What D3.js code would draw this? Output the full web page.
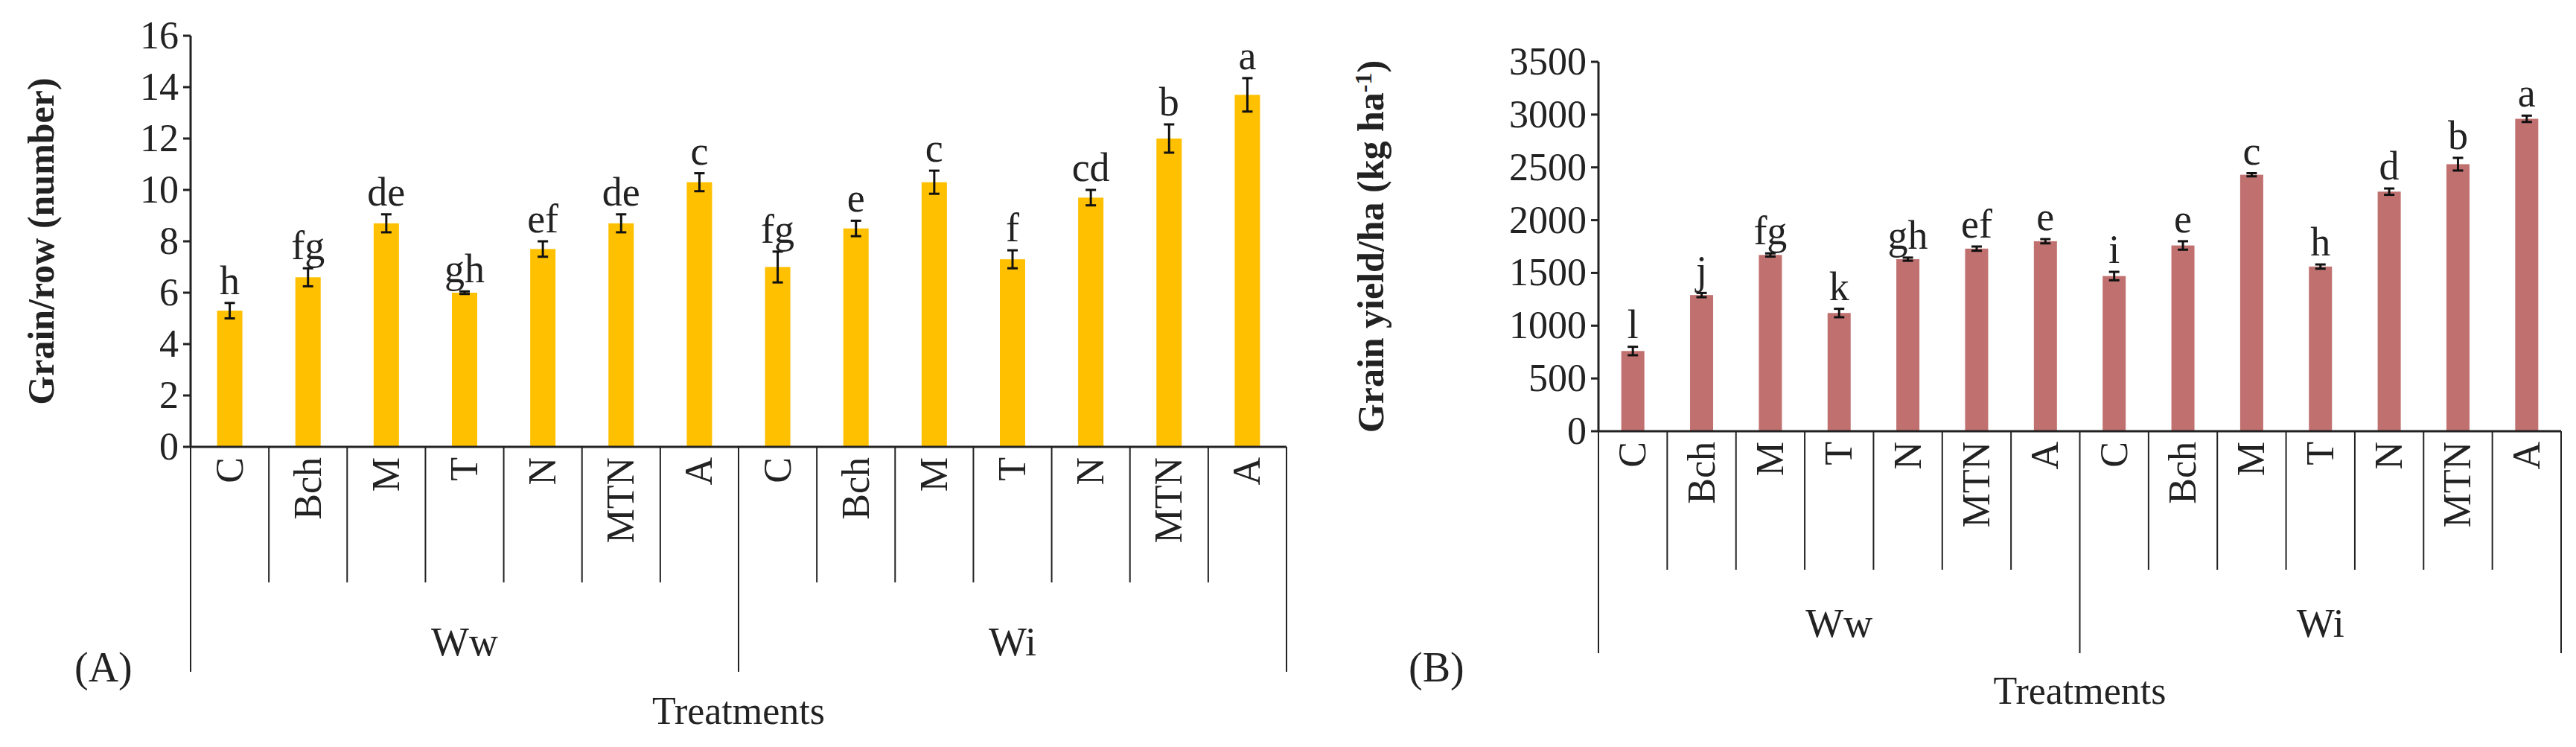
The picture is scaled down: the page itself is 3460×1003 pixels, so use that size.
<!DOCTYPE html>
<html><head><meta charset="utf-8">
<script src="https://cdn.jsdelivr.net/npm/d3@7"></script>
<style>body{margin:0;background:#fff}svg{display:block}text{font-family:"Liberation Serif","Times New Roman",serif;fill:#222}</style>
</head><body><svg id="c" width="3460" height="1003"></svg>
<script>
var treatments = ["C", "Bch", "M", "T", "N", "MTN", "A"];
var groups = ["Ww", "Wi"];
var grainRow = [5.3, 6.6, 8.7, 6.0, 7.7, 8.7, 10.3, 7.0, 8.5, 10.3, 7.3, 9.7, 12.0, 13.7];
var grainRowErr = [0.3, 0.35, 0.35, 0.05, 0.3, 0.35, 0.35, 0.6, 0.3, 0.45, 0.35, 0.3, 0.55, 0.65];
var grainRowLetters = ["h", "fg", "de", "gh", "ef", "de", "c", "fg", "e", "c", "f", "cd", "b", "a"];
var grainYield = [760, 1290, 1670, 1120, 1630, 1730, 1800, 1470, 1760, 2430, 1560, 2270, 2530, 2960];
var grainYieldErr = [40, 20, 15, 40, 15, 20, 20, 40, 40, 15, 20, 30, 60, 30];
var grainYieldLetters = ["l", "j", "fg", "k", "gh", "ef", "e", "i", "e", "c", "h", "d", "b", "a"];
var ticksA = [0, 2, 4, 6, 8, 10, 12, 14, 16];
var ticksB = [0, 500, 1000, 1500, 2000, 2500, 3000, 3500];

var svg = d3.select("#c");

function panel(o) {
  var g = svg.append("g");
  var keys = d3.range(o.values.length);
  var x = d3.scaleBand().domain(keys).range([o.x0, o.x1]);
  var y = d3.scaleLinear().domain([0, o.ticks[o.ticks.length - 1]]).range([o.y0, o.yTop]);

  // y axis
  g.append("line").attr("x1", o.x0).attr("x2", o.x0).attr("y1", o.y0).attr("y2", o.yTop).attr("stroke", "#222").attr("stroke-width", 3);
  g.selectAll(".yt").data(o.ticks).enter().append("line")
    .attr("x1", o.x0 - 10).attr("x2", o.x0).attr("y1", y).attr("y2", y).attr("stroke", "#222").attr("stroke-width", 3);
  g.selectAll(".yl").data(o.ticks).enter().append("text")
    .attr("x", o.x0 - 16).attr("y", function(d) { return y(d) + 17; })
    .attr("text-anchor", "end").attr("font-size", 52).text(function(d) { return d; });

  // bars
  g.selectAll(".bar").data(o.values).enter().append("rect")
    .attr("x", function(d, i) { return x(i) + x.bandwidth() / 2 - o.bw / 2; })
    .attr("width", o.bw).attr("y", function(d) { return y(d); })
    .attr("height", function(d) { return o.y0 - y(d); }).attr("fill", o.color);

  // error bars
  o.values.forEach(function(v, i) {
    var cx = x(i) + x.bandwidth() / 2, lo = y(v - o.err[i]), hi = y(v + o.err[i]);
    g.append("line").attr("x1", cx).attr("x2", cx).attr("y1", lo).attr("y2", hi).attr("stroke", "#111").attr("stroke-width", 3);
    [lo, hi].forEach(function(yy) {
      g.append("line").attr("x1", cx - 7).attr("x2", cx + 7).attr("y1", yy).attr("y2", yy).attr("stroke", "#111").attr("stroke-width", 3);
    });
    g.append("text").attr("x", cx).attr("y", hi - 12).attr("text-anchor", "middle")
      .attr("font-size", 54).text(o.letters[i]);
  });

  // x axis
  g.append("line").attr("x1", o.x0).attr("x2", o.x1).attr("y1", o.y0).attr("y2", o.y0).attr("stroke", "#222").attr("stroke-width", 3);
  keys.forEach(function(i) {
    var lx = x(i);
    var isGroup = i % treatments.length === 0;
    g.append("line").attr("x1", lx).attr("x2", lx).attr("y1", o.y0)
      .attr("y2", isGroup ? o.yGroup : o.ySep).attr("stroke", "#222").attr("stroke-width", 2);
    var cx = lx + x.bandwidth() / 2;
    g.append("text").attr("transform", "translate(" + (cx + 17) + "," + (o.y0 + 14) + ") rotate(-90)")
      .attr("text-anchor", "end").attr("font-size", 52).text(treatments[i % treatments.length]);
  });
  g.append("line").attr("x1", o.x1).attr("x2", o.x1).attr("y1", o.y0).attr("y2", o.yGroup).attr("stroke", "#222").attr("stroke-width", 2);
  groups.forEach(function(gr, k) {
    var a = x(k * treatments.length), b = x((k + 1) * treatments.length - 1) + x.bandwidth();
    g.append("text").attr("x", (a + b) / 2).attr("y", o.yGroupLabel).attr("text-anchor", "middle").attr("font-size", 54).text(gr);
  });
  g.append("text").attr("x", (o.x0 + o.x1) / 2).attr("y", o.yTitle).attr("text-anchor", "middle").attr("font-size", 52).text("Treatments");
  g.append("text").attr("x", o.tagX).attr("y", 915).attr("font-size", 56).text(o.tag);
  var yt = g.append("text").attr("transform", "translate(" + o.yLabelX + "," + ((o.y0 + o.yTop) / 2) + ") rotate(-90)")
    .attr("text-anchor", "middle").attr("font-size", 50).attr("font-weight", "bold");
  o.yLabel(yt);
}

panel({
  values: grainRow, err: grainRowErr, letters: grainRowLetters, ticks: ticksA,
  x0: 256, x1: 1728, y0: 600, yTop: 48, bw: 34, color: "#ffc000",
  ySep: 782, yGroup: 902, yGroupLabel: 880, yTitle: 972, tagX: 100, tag: "(A)", yLabelX: 72,
  yLabel: function(t) { t.text("Grain/row (number)"); }
});

panel({
  values: grainYield, err: grainYieldErr, letters: grainYieldLetters, ticks: ticksB,
  x0: 2147, x1: 3440, y0: 579, yTop: 83, bw: 31, color: "#c0706f",
  ySep: 765, yGroup: 877, yGroupLabel: 855, yTitle: 945, tagX: 1892, tag: "(B)", yLabelX: 1858,
  yLabel: function(t) {
    t.append("tspan").text("Grain yield/ha (kg ha");
    t.append("tspan").attr("dy", -16).attr("font-size", 32).text("-1");
    t.append("tspan").attr("dy", 16).text(")");
  }
});
</script></body></html>
